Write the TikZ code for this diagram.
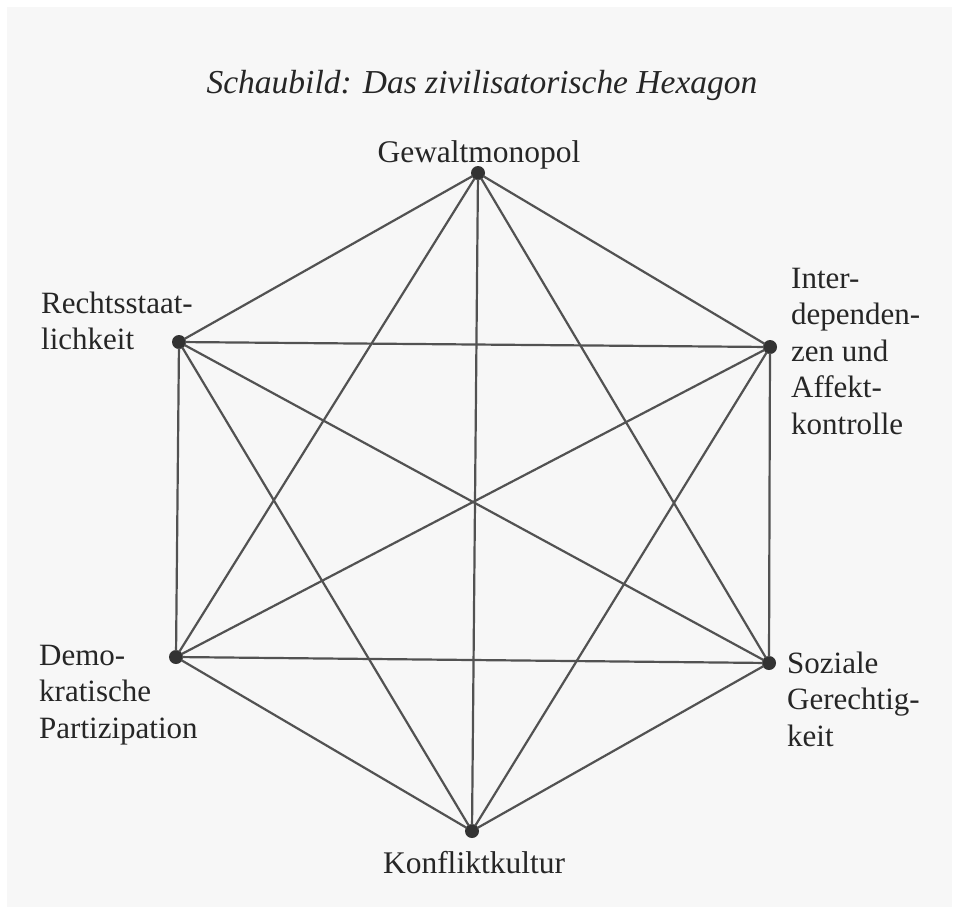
\documentclass[tikz,border=0pt]{standalone}
\usepackage{fontspec}
\setmainfont{Liberation Serif}
\begin{document}
\begin{tikzpicture}[x=1pt,y=-1pt,
  vtx/.style={circle,fill=black!80,inner sep=0pt,minimum size=14pt},
  edge/.style={draw=black!68,line width=2.2pt,shorten <=-1pt,shorten >=-1pt},
  lbl/.style={inner sep=0pt,font=\fontsize{31}{36.5}\selectfont,text=black!85,align=left,anchor=north west},
  clbl/.style={inner sep=0pt,font=\fontsize{31.5}{37}\selectfont,text=black!85,anchor=base}]
\useasboundingbox (0,0) rectangle (959,914);
\fill[white] (0,0) rectangle (959,914);
\fill[black!3] (7,7) rectangle (952,907);
\node[inner sep=0pt,anchor=base,font=\fontsize{33.5}{40}\selectfont\itshape,text=black!85] (title) at (482,93) {Schaubild: Das zivilisatorische Hexagon};
\node[vtx] (G) at (478,173) {};
\node[vtx] (R) at (179,342) {};
\node[vtx] (I) at (770,347) {};
\node[vtx] (D) at (176,657) {};
\node[vtx] (S) at (769,663) {};
\node[vtx] (K) at (472,831) {};
\foreach \a/\b in {G/R,G/I,G/D,G/S,G/K,R/I,R/D,R/S,R/K,I/D,I/S,I/K,D/S,D/K,S/K}
  \draw[edge] (\a) -- (\b);
\node[clbl] (lG) at (479,162) {Gewaltmonopol};
\node[clbl] (lK) at (474,873) {Konfliktkultur};
\node[lbl] (lR) at (41,313-25.55) {\strut Rechtsstaat-\\lichkeit};
\node[lbl] (lI) at (791,288-25.55) {\strut Inter-\\dependen-\\zen und\\Affekt-\\kontrolle};
\node[lbl] (lD) at (39,665-25.55) {\strut Demo-\\kratische\\Partizipation};
\node[lbl] (lS) at (787,673-25.55) {\strut Soziale\\Gerechtig-\\keit};
\end{tikzpicture}
\end{document}
